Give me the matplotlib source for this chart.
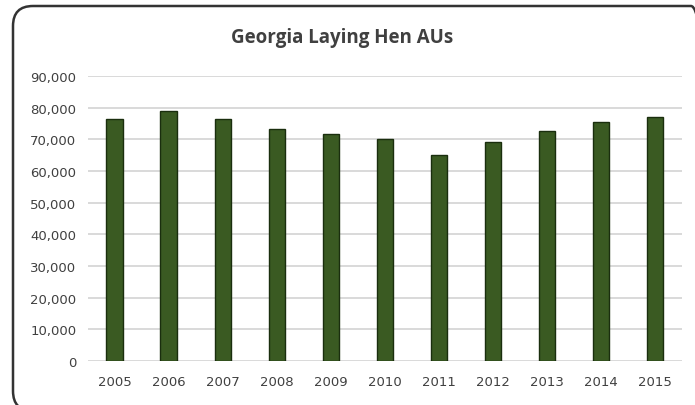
import matplotlib
matplotlib.use("Agg")
import matplotlib.pyplot as plt
from matplotlib.patches import FancyBboxPatch
from matplotlib.ticker import FuncFormatter

# Georgia laying hen animal units by year
years = ["2005", "2006", "2007", "2008", "2009", "2010",
         "2011", "2012", "2013", "2014", "2015"]
hen_aus = [76300, 78900, 76300, 73200, 71600, 70000,
           65200, 69200, 72500, 75600, 77200]
y_ticks = [0, 10000, 20000, 30000, 40000, 50000, 60000, 70000, 80000, 90000]

fig = plt.figure(figsize=(6.95, 4.06), dpi=100)
ax = fig.add_axes([0.126, 0.109, 0.855, 0.701])

ax.bar(range(len(years)), hen_aus, width=0.3, color="#3a5a22",
       edgecolor="#1a2e0e", linewidth=1.0, zorder=3)

ax.set_xlim(-0.5, len(years) - 0.5)
ax.set_ylim(0, 90000)
ax.set_yticks(y_ticks)
ax.yaxis.set_major_formatter(FuncFormatter(lambda v, p: f"{int(v):,}"))
ax.set_xticks(range(len(years)))
ax.set_xticklabels(years)
ax.tick_params(axis="both", length=0, labelsize=9.5, colors="#404040")
ax.tick_params(axis="y", pad=8)
ax.tick_params(axis="x", pad=10)
ax.grid(axis="y", color="#d9d9d9", linewidth=1.4, zorder=0)
for s in ax.spines.values():
    s.set_visible(False)

fig.text(0.492, 0.906, "Georgia Laying Hen AUs", ha="center", va="center",
         fontsize=13.5, fontweight="bold", color="#404040", family="Open Sans")

# rounded chart frame, right and bottom sides run off the image
frame = FancyBboxPatch((0.13, -0.06), 6.98, 4.06 - 0.07 + 0.06,
                       boxstyle="round,pad=0,rounding_size=0.2",
                       transform=fig.dpi_scale_trans, fill=False,
                       edgecolor="#333333", linewidth=1.8)
fig.patches.append(frame)

fig.savefig("out.png", dpi=100)
